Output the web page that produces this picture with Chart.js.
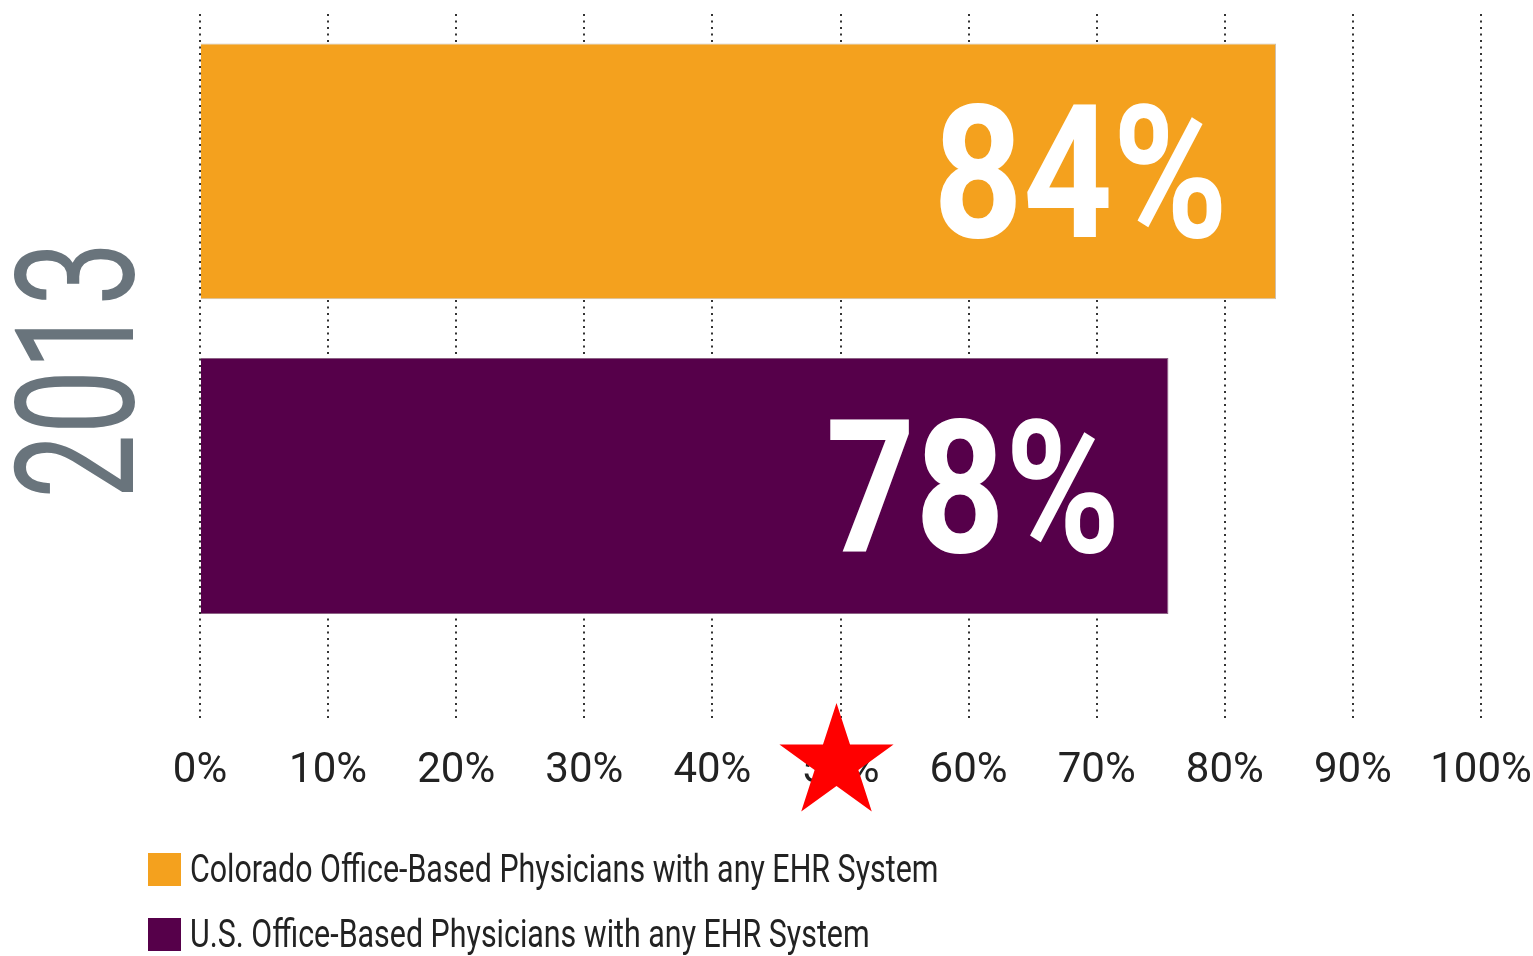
<!DOCTYPE html>
<html>
<head>
<meta charset="utf-8">
<title>Office-Based Physicians with any EHR System, 2013</title>
<script src="https://cdn.jsdelivr.net/npm/chart.js@4.4.1/dist/chart.umd.min.js"></script>
<style>
    html, body { margin: 0; padding: 0; background: #ffffff; }
    #wrap { position: relative; width: 1533px; height: 956px; overflow: hidden; }
    #legend { position: absolute; left: 148px; top: 850px; font-family: Roboto, 'Noto Sans', sans-serif; font-size: 38px; color: #222; }
    #legend .row { display: flex; align-items: center; height: 38px; margin-bottom: 27px; white-space: nowrap; }
    #legend .box { width: 33px; height: 33px; margin-right: 9px; flex: none; }
    #legend .txt { display: inline-block; transform: scaleX(0.8); transform-origin: left center; }
</style>
</head>
<body>
<div id="wrap">
    <canvas id="ehrChart"></canvas>
    <div id="legend"></div>
</div>
<script>
// data
const categories = ['Colorado Office-Based Physicians with any EHR System', 'U.S. Office-Based Physicians with any EHR System'];
const barValues = [84, 75.6];          // where the bars end on the axis
const barLabels = ['84%', '78%'];      // printed on the bars
const barColors = ['#f4a11e', '#56004a'];
const barEdges = ['#cbbfae', '#8c6184'];
const yearLabel = '2013';
const tickValues = [0, 10, 20, 30, 40, 50, 60, 70, 80, 90, 100];
const starAt = [50];

const FONT = "Roboto, 'Noto Sans', sans-serif";

(function () {
    const canvas = document.getElementById('ehrChart');
    const legendEl = document.getElementById('legend');
    if (!canvas) return;

    // condensed text: the original uses a narrow face we don't have
    function squashText(ctx, text, x, y, sx) {
        ctx.save();
        ctx.translate(x, y);
        ctx.scale(sx, 1);
        ctx.fillText(text, 0, 0);
        ctx.restore();
    }

    // big white numbers inside the bars
    const barLabelPlugin = {
        id: 'barLabels',
        afterDatasetsDraw(chart) {
            const ctx = chart.ctx;
            ctx.save();
            ctx.fillStyle = '#ffffff';
            ctx.font = 'bold 186px ' + FONT;
            ctx.textAlign = 'right';
            ctx.textBaseline = 'alphabetic';
            chart.data.datasets.forEach((ds, i) => {
                const bar = chart.getDatasetMeta(i).data[0];
                if (!bar) return;
                squashText(ctx, barLabels[i], bar.x - 48, bar.y + 66, 0.84);
            });
            ctx.restore();
        }
    };

    // year written up the left side, centred on the plot
    const yearPlugin = {
        id: 'yearTitle',
        afterDraw(chart) {
            const ctx = chart.ctx;
            const ys = chart.scales.y;
            const cy = (ys.top + ys.bottom) / 2 + 2;
            ctx.save();
            ctx.fillStyle = '#69747c';
            ctx.font = '166px ' + FONT;
            ctx.textAlign = 'center';
            ctx.textBaseline = 'alphabetic';
            ctx.translate(74, cy);
            ctx.rotate(-Math.PI / 2);
            ctx.scale(0.69, 1);
            ctx.fillText(yearLabel, 0, 59);
            ctx.restore();
        }
    };

    // red star over the 50% tick
    const starPlugin = {
        id: 'star',
        afterDraw(chart) {
            const ctx = chart.ctx;
            const xs = chart.scales.x;
            starAt.forEach(v => {
                const cx = xs.getPixelForValue(v) - 4;
                const cy = xs.top + 41;
                const outer = 60, inner = 23;
                ctx.save();
                ctx.beginPath();
                for (let k = 0; k < 10; k++) {
                    const r = k % 2 === 0 ? outer : inner;
                    const a = -Math.PI / 2 + k * Math.PI / 5;
                    const px = cx + r * Math.cos(a);
                    const py = cy + r * Math.sin(a);
                    if (k === 0) ctx.moveTo(px, py); else ctx.lineTo(px, py);
                }
                ctx.closePath();
                ctx.fillStyle = '#ff0000';
                ctx.fill();
                ctx.restore();
            });
        }
    };

    const datasets = categories.map((name, i) => ({
        label: name,
        data: [{ x: barValues[i], y: i }],
        backgroundColor: barColors[i],
        borderColor: barEdges[i],
        borderWidth: 1,
        grouped: false,
        categoryPercentage: 0.813,
        barPercentage: 1
    }));

    const config = {
        type: 'bar',
        data: { datasets: datasets },
        options: {
            indexAxis: 'y',
            responsive: true,
            maintainAspectRatio: false,
            animation: false,
            layout: { padding: { top: 14, right: 52, left: 0, bottom: 0 } },
            plugins: {
                legend: { display: false },
                tooltip: { enabled: false }
            },
            scales: {
                x: {
                    type: 'linear',
                    min: tickValues[0],
                    max: tickValues[tickValues.length - 1],
                    afterBuildTicks: (scale) => {
                        scale.ticks = tickValues.map(v => ({ value: v }));
                    },
                    afterFit: (scale) => {
                        scale.height = 234;
                        scale.paddingLeft = 0;
                        scale.paddingRight = 0;
                    },
                    ticks: {
                        callback: (v) => v + '%',
                        color: '#222222',
                        padding: 24,
                        maxRotation: 0,
                        font: { family: FONT, size: 42 }
                    },
                    grid: {
                        color: '#333333',
                        lineWidth: 2,
                        drawTicks: false
                    },
                    border: { display: false, dash: [2, 4.5] }
                },
                y: {
                    type: 'linear',
                    reverse: true,
                    offset: false,
                    min: -0.5,
                    max: 1.75,
                    // one tick per bar so the bar width follows the bar spacing
                    afterBuildTicks: (scale) => {
                        scale.ticks = categories.map((c, i) => ({ value: i }));
                    },
                    afterFit: (scale) => { scale.width = 200; },
                    ticks: { display: false },
                    grid: { display: false },
                    border: { display: false }
                }
            }
        },
        plugins: [barLabelPlugin, yearPlugin, starPlugin]
    };

    new Chart(canvas.getContext('2d'), config);

    // legend rows under the axis
    categories.forEach((name, i) => {
        const row = document.createElement('div');
        row.className = 'row';
        const box = document.createElement('span');
        box.className = 'box';
        box.style.background = barColors[i];
        const txt = document.createElement('span');
        txt.className = 'txt';
        txt.textContent = name;
        row.appendChild(box);
        row.appendChild(txt);
        legendEl.appendChild(row);
    });
})();
</script>
</body>
</html>
